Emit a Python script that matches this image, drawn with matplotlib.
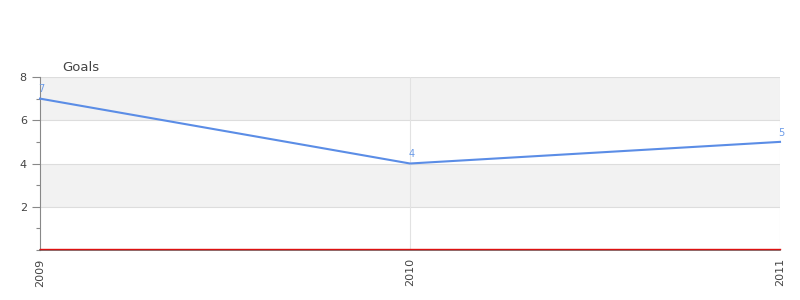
import matplotlib
matplotlib.use("Agg")
import matplotlib.pyplot as plt
import matplotlib.transforms as mtransforms
from matplotlib.ticker import MultipleLocator

years = ["2009", "2010", "2011"]
goals = [7, 4, 5]
y_ticks = [2, 4, 6, 8]
title = "Goals"

fig = plt.figure(figsize=(8, 3), dpi=100)
ax = fig.add_axes([40/800, 1 - 250/300, 740/800, 173/300])

x = list(range(len(years)))
ax.set_xlim(0, len(years) - 1)
ax.set_ylim(0, 8)

# alternating bands
for lo in range(0, 8, 2):
    if (lo // 2) % 2 == 1:
        ax.axhspan(lo, lo + 2, color="#f2f2f2", zorder=0, lw=0)
for yv in y_ticks:
    ax.axhline(yv, color="#dddddd", lw=0.8, zorder=1)
for xv in x[1:]:
    ax.axvline(xv, color="#e2e2e2", lw=0.8, zorder=1)

ax.plot(x, goals, color="#5b8de6", lw=1.5, zorder=3, clip_on=False)
for xi, v in zip(x, goals):
    ax.annotate(str(v), (xi, v), xytext=(1, 3), textcoords="offset points",
                ha="center", va="bottom", fontsize=7, color="#6b9be8",
                annotation_clip=False)

# red baseline just above the bottom spine
off = mtransforms.offset_copy(ax.get_yaxis_transform(), fig=fig, y=1.2, units="dots")
ax.plot([0, 1], [0, 0], color="#dd1111", lw=1.0, zorder=5, transform=off, clip_on=False)

ax.set_yticks(y_ticks)
ax.set_yticklabels([str(t) for t in y_ticks])
ax.yaxis.set_minor_locator(MultipleLocator(1))
ax.set_xticks(x)
ax.set_xticklabels(years, rotation=90)
ax.tick_params(axis="both", which="major", labelsize=8, colors="#444444",
               length=6, width=0.8)
ax.tick_params(axis="y", which="minor", length=3, width=0.8, colors="#888888")
ax.tick_params(axis="x", length=0, pad=6)
ax.tick_params(axis="y", colors="#888888", labelcolor="#444444")

for s in ["top", "right"]:
    ax.spines[s].set_visible(False)
ax.spines["left"].set_color("#888888")
ax.spines["bottom"].set_color("#666666")
ax.spines["bottom"].set_linewidth(1.2)

fig.text(62/800, 1 - 67/300, title, fontsize=9.5, color="#444444",
         ha="left", va="center")

fig.savefig("out.png", dpi=100)
